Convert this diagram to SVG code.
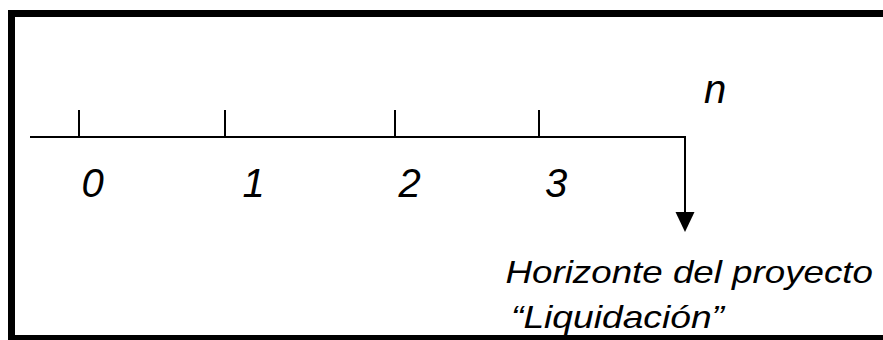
<svg xmlns="http://www.w3.org/2000/svg" width="883" height="340" viewBox="0 0 883 340">
  <defs>
    <style>
      .frame { fill: #000; }
      .line { stroke: #000; stroke-width: 2; fill: none; }
      .num { font-family: "Liberation Sans", Arial, sans-serif; font-style: italic; font-size: 40px; fill: #000; text-anchor: middle; }
      .lbl { font-family: "Liberation Sans", Arial, sans-serif; font-style: italic; font-size: 32px; fill: #000; }
    </style>
    <marker id="arrow" viewBox="0 0 20 20" refX="0" refY="10" markerWidth="20" markerHeight="20" markerUnits="userSpaceOnUse" orient="auto">
      <path d="M0,0.5 L20,10 L0,19.5 Z" fill="#000"/>
    </marker>
  </defs>
  <rect width="883" height="340" fill="#fff"/>
  <g id="frame">
    <rect class="frame" x="8" y="10" width="875" height="7"/>
    <rect class="frame" x="8" y="10" width="7" height="330"/>
    <rect class="frame" x="8" y="335" width="875" height="5"/>
  </g>
  <g id="connectors">
    <path class="line" d="M30,137 H685 V212" marker-end="url(#arrow)"/>
    <path class="line" d="M79,110 V137 M225,110 V137 M395,110 V137 M539,110 V137"/>
  </g>
  <g id="tick-0"><text class="num" x="92.5" y="197">0</text></g>
  <g id="tick-1"><text class="num" x="253.5" y="197">1</text></g>
  <g id="tick-2"><text class="num" x="409.5" y="197">2</text></g>
  <g id="tick-3"><text class="num" x="556" y="197">3</text></g>
  <g id="tick-n"><text class="num" x="715" y="103">n</text></g>
  <g id="horizonte">
    <text class="lbl" x="505.5" y="283" textLength="367.5" lengthAdjust="spacingAndGlyphs">Horizonte del proyecto</text>
    <text class="lbl" x="511" y="328" textLength="213" lengthAdjust="spacingAndGlyphs">“Liquidación”</text>
  </g>
</svg>
